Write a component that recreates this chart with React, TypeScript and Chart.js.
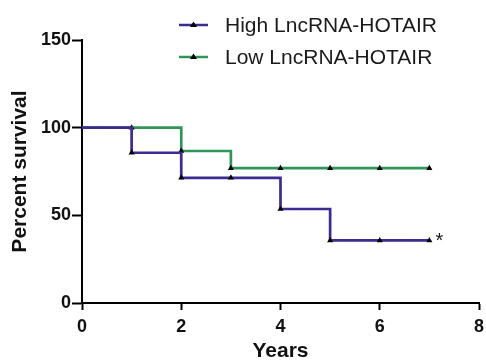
import React, { useEffect, useRef } from "react";
import { Chart, registerables } from "chart.js";

Chart.register(...registerables);

const years = [0, 1, 2, 3, 4, 5, 6, 7];
const highSurvival = [100, 85.7, 71.4, 71.4, 53.6, 35.7, 35.7, 35.7];
const lowSurvival = [100, 100, 86.7, 76.9, 76.9, 76.9, 76.9, 76.9];
const seriesNames = ["High LncRNA-HOTAIR", "Low LncRNA-HOTAIR"];
const seriesColors = ["#3D2B93", "#2F9557"];
const xTitle = "Years";
const yTitle = "Percent survival";
const xTicks = { min: 0, max: 8, step: 2 };
const yTicks = { min: 0, max: 150, step: 50 };
const significanceMark = "*";

const FONT = "'Liberation Sans', Arial, Helvetica, sans-serif";

export default function App() {
  const canvasRef = useRef<HTMLCanvasElement | null>(null);

  useEffect(() => {
    if (!canvasRef.current) return;
    const toPts = (vals: number[]) => years.map((x, i) => ({ x, y: vals[i] }));
    const radius = (ctx: any) => (ctx.dataIndex === 0 ? 0 : 3.5);

    const legendPlugin = {
      id: "customLegend",
      afterDraw(chart: any) {
        const ctx = chart.ctx;
        ctx.save();
        const rows = [25, 57];
        chart.data.datasets.forEach((ds: any, i: number) => {
          const y = rows[i];
          ctx.strokeStyle = ds.borderColor;
          ctx.lineWidth = 2.5;
          ctx.beginPath();
          ctx.moveTo(179, y);
          ctx.lineTo(208, y);
          ctx.stroke();
          ctx.fillStyle = "#000";
          ctx.beginPath();
          ctx.moveTo(193.5, y - 3.5);
          ctx.lineTo(197, y + 2);
          ctx.lineTo(190, y + 2);
          ctx.closePath();
          ctx.fill();
          ctx.font = `21px ${FONT}`;
          ctx.fillStyle = "#1a1a1a";
          ctx.textBaseline = "middle";
          ctx.textAlign = "left";
          ctx.fillText(ds.label, 225, y + 1);
        });
        // significance asterisk next to end of High series
        const xs = chart.scales.x;
        const ys = chart.scales.y;
        const last = years.length - 1;
        const px = xs.getPixelForValue(years[last]) + 10;
        const py = ys.getPixelForValue(highSurvival[last]);
        ctx.font = `20px ${FONT}`;
        ctx.fillStyle = "#1a1a1a";
        ctx.textAlign = "center";
        ctx.textBaseline = "middle";
        ctx.fillText(significanceMark, px, py + 1);
        ctx.restore();
      },
    };

    const chart = new Chart(canvasRef.current, {
      type: "line",
      data: {
        datasets: [
          {
            label: seriesNames[0],
            data: toPts(highSurvival),
            borderColor: seriesColors[0],
            borderWidth: 2.7,
            stepped: true,
            pointStyle: "triangle",
            pointRadius: radius,
            pointBackgroundColor: "#000",
            pointBorderColor: "#000",
            pointBorderWidth: 0,
            fill: false,
          },
          {
            label: seriesNames[1],
            data: toPts(lowSurvival),
            borderColor: seriesColors[1],
            borderWidth: 2.7,
            stepped: true,
            pointStyle: "triangle",
            pointRadius: radius,
            pointBackgroundColor: "#000",
            pointBorderColor: "#000",
            pointBorderWidth: 0,
            fill: false,
          },
        ],
      },
      options: {
        responsive: false,
        animation: false,
        devicePixelRatio: 1,
        layout: { padding: { top: 40, right: 7, left: 0, bottom: 0 } },
        plugins: {
          legend: { display: false },
          tooltip: { enabled: false },
        },
        scales: {
          x: {
            type: "linear",
            min: xTicks.min,
            max: xTicks.max,
            ticks: {
              stepSize: xTicks.step,
              font: { family: FONT, size: 18, weight: "bold" },
              color: "#111",
              padding: 6,
            },
            grid: {
              drawOnChartArea: false,
              drawTicks: true,
              tickLength: 7,
              tickColor: "#000",
              tickWidth: 2,
            },
            border: { display: true, color: "#000", width: 2 },
            title: {
              display: true,
              text: xTitle,
              font: { family: FONT, size: 21, weight: "bold", lineHeight: 1 },
              color: "#111",
              padding: { top: 0, bottom: -1 },
            },
            afterFit: (s: any) => {
              s.height = 58;
              s.paddingRight = 7;
              s.paddingLeft = 0;
            },
          },
          y: {
            type: "linear",
            min: yTicks.min,
            max: yTicks.max,
            ticks: {
              stepSize: yTicks.step,
              font: { family: FONT, size: 18, weight: "bold" },
              color: "#111",
              padding: 1,
            },
            grid: {
              drawOnChartArea: false,
              drawTicks: true,
              tickLength: 10,
              tickColor: "#000",
              tickWidth: 2,
            },
            border: { display: true, color: "#000", width: 2 },
            title: {
              display: true,
              text: yTitle,
              font: { family: FONT, size: 21, weight: "bold", lineHeight: 1 },
              color: "#111",
              padding: { top: 9.5, bottom: 0 },
            },
            afterFit: (s: any) => {
              s.width = 82;
            },
          },
        },
      },
      plugins: [legendPlugin],
    } as any);

    return () => chart.destroy();
  }, []);

  return (
    <div style={{ position: "absolute", left: 0, top: 0, width: 486, height: 361, background: "#fff" }}>
      <canvas ref={canvasRef} width={486} height={361} />
    </div>
  );
}
